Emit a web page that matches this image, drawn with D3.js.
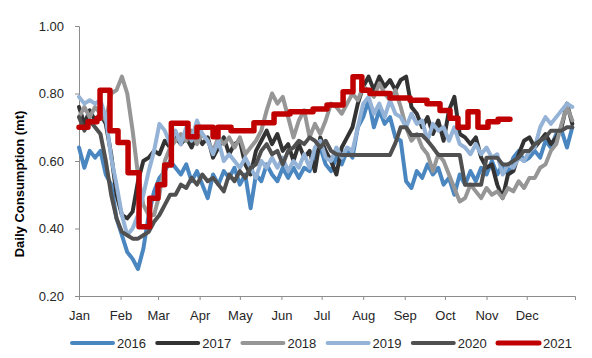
<!DOCTYPE html>
<html>
<head>
<meta charset="utf-8">
<script src="https://cdn.jsdelivr.net/npm/d3@7"></script>
<style>
  html, body { margin: 0; padding: 0; background: #fff; }
  svg { display: block; font-family: Arial, "Liberation Sans", sans-serif; }
</style>
</head>
<body>
<svg id="chart" width="592" height="358"></svg>
<script>
// ---- data ----
const months = ["Jan","Feb","Mar","Apr","May","Jun","Jul","Aug","Sep","Oct","Nov","Dec"];
const monthStartDays = [0,31,59,90,120,151,181,212,243,273,304,334];
const yTicks = [0.20, 0.40, 0.60, 0.80, 1.00];
const years = ["2016","2017","2018","2019","2020","2021"];

// sample day-of-year for series 2016-2020 (every 4 days)
const sampleDays = d3.range(0, 369, 4);

const s2016 = [0.64,0.58,0.63,0.61,0.63,0.56,0.53,0.43,0.38,0.33,
0.31,0.28,0.34,0.44,0.51,0.55,0.57,0.60,0.58,0.56,
0.59,0.54,0.57,0.53,0.49,0.56,0.53,0.57,0.55,0.58,
0.53,0.56,0.46,0.56,0.54,0.59,0.56,0.54,0.58,0.55,
0.58,0.55,0.58,0.57,0.62,0.64,0.59,0.57,0.61,0.59,
0.63,0.61,0.70,0.73,0.78,0.70,0.75,0.71,0.73,0.67,
0.66,0.54,0.52,0.57,0.55,0.59,0.56,0.58,0.53,0.55,
0.50,0.56,0.53,0.57,0.54,0.58,0.56,0.60,0.56,0.59,
0.56,0.61,0.63,0.60,0.61,0.63,0.61,0.66,0.64,0.68,
0.69,0.64,0.70];

const s2017 = [0.76,0.71,0.75,0.72,0.74,0.71,0.62,0.50,0.44,0.43,
0.45,0.54,0.60,0.61,0.63,0.62,0.66,0.64,0.67,0.65,
0.67,0.64,0.68,0.65,0.67,0.61,0.64,0.67,0.62,0.65,
0.66,0.59,0.56,0.63,0.66,0.69,0.65,0.68,0.63,0.65,
0.60,0.65,0.61,0.63,0.57,0.67,0.63,0.60,0.56,0.64,
0.67,0.70,0.77,0.82,0.85,0.81,0.85,0.82,0.84,0.81,
0.84,0.85,0.76,0.74,0.70,0.73,0.68,0.72,0.66,0.75,
0.79,0.68,0.67,0.65,0.67,0.61,0.58,0.59,0.53,0.49,
0.56,0.57,0.62,0.66,0.67,0.64,0.66,0.68,0.65,0.67,
0.70,0.77,0.71];

const s2018 = [0.73,0.76,0.73,0.76,0.74,0.72,0.80,0.81,0.85,0.80,
0.69,0.56,0.47,0.44,0.44,0.50,0.60,0.64,0.66,0.68,
0.66,0.69,0.65,0.68,0.66,0.63,0.67,0.65,0.67,0.64,
0.67,0.62,0.64,0.66,0.69,0.75,0.80,0.77,0.79,0.73,
0.67,0.72,0.75,0.67,0.71,0.68,0.72,0.77,0.76,0.74,
0.77,0.80,0.78,0.82,0.81,0.79,0.83,0.80,0.78,0.81,
0.76,0.70,0.66,0.68,0.64,0.62,0.57,0.62,0.60,0.56,
0.52,0.48,0.49,0.53,0.51,0.49,0.52,0.50,0.51,0.49,
0.52,0.51,0.54,0.52,0.55,0.55,0.58,0.59,0.63,0.65,
0.71,0.76,0.72];

const s2019 = [0.79,0.77,0.78,0.77,0.78,0.73,0.61,0.53,0.44,0.38,
0.40,0.44,0.50,0.57,0.63,0.71,0.69,0.65,0.69,0.65,
0.70,0.66,0.72,0.68,0.66,0.62,0.66,0.60,0.62,0.60,
0.58,0.61,0.58,0.55,0.60,0.58,0.61,0.58,0.61,0.57,
0.60,0.58,0.62,0.58,0.64,0.66,0.61,0.60,0.64,0.61,
0.64,0.63,0.70,0.77,0.79,0.74,0.77,0.73,0.78,0.74,
0.73,0.70,0.74,0.71,0.72,0.66,0.71,0.69,0.70,0.66,
0.70,0.65,0.64,0.62,0.65,0.62,0.64,0.61,0.62,0.56,
0.59,0.58,0.61,0.60,0.63,0.64,0.70,0.73,0.71,0.73,
0.75,0.77,0.76];

const s2020 = [0.73,0.69,0.72,0.70,0.68,0.60,0.50,0.43,0.39,0.38,
0.37,0.37,0.38,0.39,0.42,0.44,0.47,0.50,0.50,0.53,
0.52,0.55,0.53,0.56,0.54,0.55,0.53,0.51,0.56,0.54,
0.57,0.55,0.58,0.59,0.63,0.65,0.62,0.63,0.59,0.63,
0.64,0.66,0.65,0.67,0.66,0.64,0.66,0.63,0.62,0.618,
0.618,0.618,0.618,0.618,0.618,0.618,0.618,0.618,0.618,0.653,
0.70,0.70,0.677,0.677,0.677,0.66,0.64,0.618,0.618,0.618,
0.618,0.618,0.53,0.53,0.53,0.53,0.61,0.61,0.61,0.59,
0.59,0.60,0.61,0.63,0.63,0.65,0.66,0.67,0.69,0.69,
0.69,0.70,0.70];

// 2021: step series, day-of-year where each level starts
const s2021Days =   [0,   6.7, 13.4, 15.7, 23.1, 29.1, 36.6, 44.8, 52.7, 58.9, 63.9, 68.9, 81.3, 88,  100, 103.7, 113.4, 130.5, 145.5, 157.4, 174.6, 185,  197,  204.4, 211,  217,  232,  247,  259.6, 269.3, 276.8, 282.7, 290.2, 297.6, 305.1, 312.6, 321.5];
const s2021Values = [0.70,0.716,0.727,0.81, 0.69, 0.655,0.565,0.405,0.49, 0.53, 0.588,0.712,0.672,0.70,0.672,0.70, 0.69,  0.713, 0.739, 0.746, 0.754, 0.766,0.805,0.85, 0.81, 0.80, 0.787,0.78, 0.77,  0.75,  0.727, 0.70,  0.746, 0.70,  0.716, 0.724, 0.724];

const colors = ["#4a86c0","#333333","#969696","#95b3d7","#505050","#c00000"];

// ---- chart ----
const svg = d3.select("#chart");
const x = d3.scaleLinear().domain([0, 370]).range([79, 575]);
const y = d3.scaleLinear().domain([0.2, 1.0]).range([296, 26]);

// axes
const yAxis = d3.axisLeft(y).tickValues(yTicks).tickFormat(d3.format(".2f")).tickSize(4).tickPadding(11);
const gy = svg.append("g").attr("transform", "translate(79,0)").call(yAxis);
const xAxis = d3.axisBottom(x).tickValues(monthStartDays).tickFormat((d,i) => months[i]).tickSize(4).tickPadding(11);
const gx = svg.append("g").attr("transform", "translate(0,296)").call(xAxis);
[gx, gy].forEach(g => {
  g.select(".domain").attr("stroke", "#8c8c8c").attr("stroke-width", 1);
  g.selectAll(".tick line").attr("stroke", "#8c8c8c");
  g.selectAll(".tick text").attr("fill", "#262626").attr("font-size", 13)
    .attr("font-family", "Arial, 'Liberation Sans', sans-serif");
});
// y title
svg.append("text")
  .attr("transform", "translate(24,184) rotate(-90)")
  .attr("text-anchor", "middle")
  .attr("font-size", 13).attr("font-weight", "bold").attr("fill", "#000")
  .text("Daily Consumption (mt)");

// lines
const line = d3.line().x(d => x(d[0])).y(d => y(d[1])).curve(d3.curveLinear);
const daily = [s2016, s2017, s2018, s2019, s2020];
const plot = svg.append("g");
daily.forEach((vals, i) => {
  plot.append("path")
    .datum(vals.map((v, j) => [sampleDays[j], v]))
    .attr("fill", "none").attr("stroke", colors[i]).attr("stroke-width", 4)
    .attr("stroke-linejoin", "round").attr("stroke-linecap", "round")
    .attr("d", line);
});
const stepLine = d3.line().x(d => x(d[0])).y(d => y(d[1])).curve(d3.curveStepAfter);
plot.append("path")
  .datum(s2021Values.map((v, j) => [s2021Days[j], v]))
  .attr("fill", "none").attr("stroke", colors[5]).attr("stroke-width", 5.5)
  .attr("stroke-linejoin", "round").attr("stroke-linecap", "round")
  .attr("d", stepLine);

// legend
const legend = svg.append("g").attr("transform", "translate(72,343)");
years.forEach((yr, i) => {
  const g = legend.append("g").attr("transform", `translate(${i * 85.2},0)`);
  g.append("line").attr("x1", 0).attr("x2", 41).attr("y1", 0).attr("y2", 0)
    .attr("stroke", colors[i]).attr("stroke-width", i === 5 ? 5 : 4).attr("stroke-linecap", "round");
  g.append("text").attr("x", 45).attr("y", 0).attr("dy", "0.35em")
    .attr("font-size", 13).attr("fill", "#262626").text(yr);
});
</script>
</body>
</html>
